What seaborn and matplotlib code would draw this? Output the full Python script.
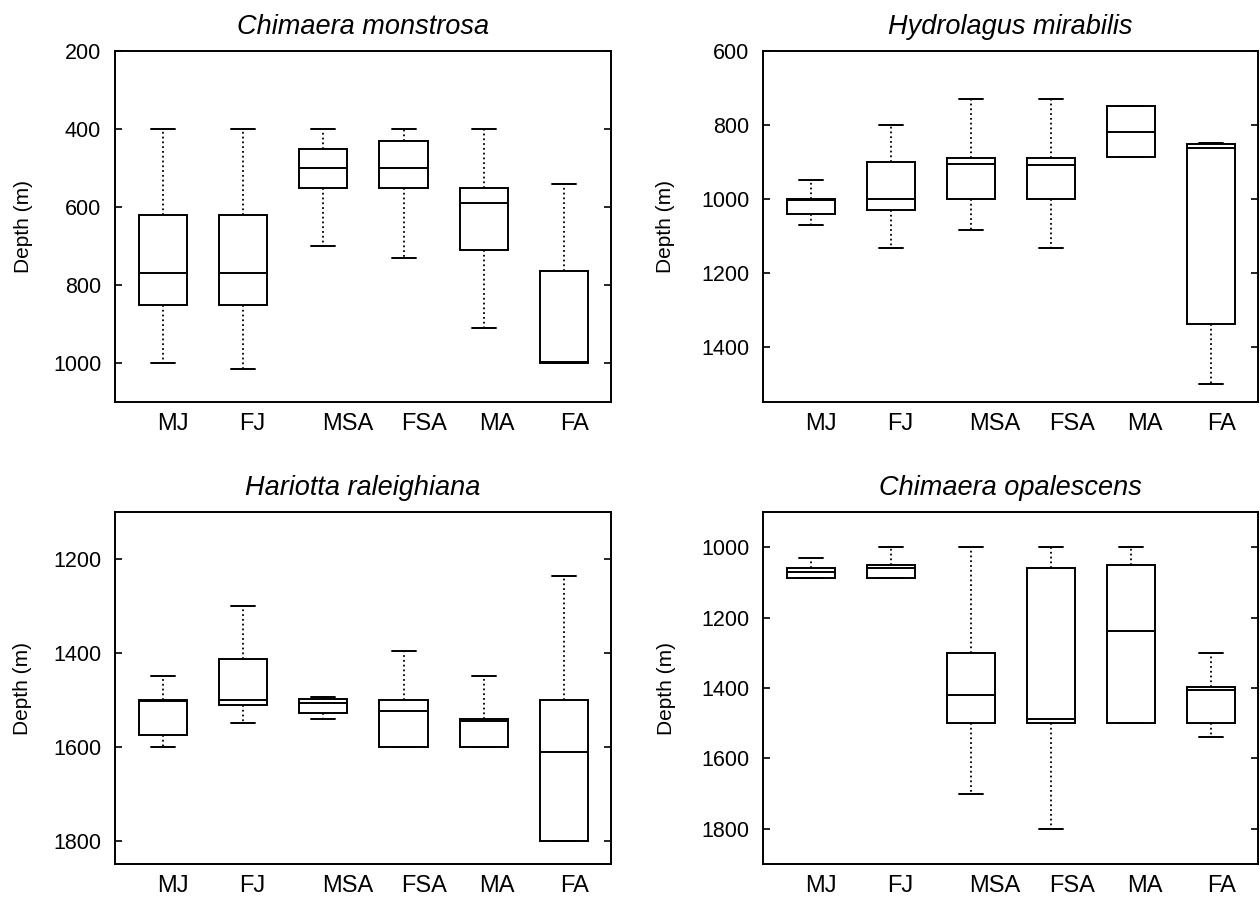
import numpy as np
import pandas as pd
import matplotlib
matplotlib.use("Agg")
import matplotlib.pyplot as plt
from matplotlib.ticker import MultipleLocator
import seaborn as sns

# ------------------------------------------------------
# Depth distribution by maturity/sex class, four chimaeras
# each tuple: (min, q1, median, q3, max), depth in m
# ------------------------------------------------------
groups = ["MJ", "FJ", "MSA", "FSA", "MA", "FA"]

monstrosa = [(400, 620, 770, 850, 1000),
             (400, 620, 770, 850, 1015),
             (400, 450, 500, 550, 700),
             (400, 430, 500, 550, 730),
             (400, 550, 590, 710, 910),
             (540, 765, 997, 1000, 1000)]

mirabilis = [(950, 1000, 1004, 1040, 1070),
             (800, 900, 1000, 1030, 1133),
             (730, 890, 905, 1000, 1085),
             (730, 890, 908, 1000, 1133),
             (750, 750, 818, 888, 888),
             (848, 852, 862, 1340, 1500)]

raleighiana = [(1450, 1500, 1503, 1575, 1600),
               (1300, 1413, 1500, 1512, 1550),
               (1495, 1498, 1507, 1528, 1540),
               (1395, 1500, 1524, 1600, 1600),
               (1450, 1540, 1546, 1600, 1600),
               (1237, 1500, 1611, 1800, 1800)]

opalescens = [(1030, 1058, 1071, 1087, 1087),
              (1000, 1051, 1059, 1087, 1087),
              (1000, 1300, 1420, 1500, 1700),
              (1000, 1060, 1488, 1500, 1800),
              (1000, 1050, 1238, 1500, 1500),
              (1300, 1397, 1405, 1500, 1540)]

# tick labels in the original sit a bit right of the boxes
label_shift = [0.12, 0.11, 0.30, 0.26, 0.17, 0.13]


def to_frame(stats):
    # five values per group reproduce the five-number summary exactly
    rows = []
    for g, vals in zip(groups, stats):
        for v in vals:
            rows.append({"group": g, "depth": v})
    return pd.DataFrame(rows)


sns.set_style("white")
plt.rcParams["font.family"] = ["Liberation Sans", "DejaVu Sans"]
plt.rcParams["text.color"] = "black"
plt.rcParams["axes.labelcolor"] = "black"
plt.rcParams["xtick.color"] = "black"
plt.rcParams["ytick.color"] = "black"

fig = plt.figure(figsize=(12.6, 8.99), dpi=100)

panels = [
    ("Chimaera monstrosa", monstrosa, (1100, 200), [0.0913, 0.5528, 0.3937, 0.3904], -0.165),
    ("Hydrolagus mirabilis", mirabilis, (1550, 600), [0.6056, 0.5528, 0.3929, 0.3904], -0.178),
    ("Hariotta raleighiana", raleighiana, (1850, 1100), [0.0913, 0.0389, 0.3937, 0.3915], -0.167),
    ("Chimaera opalescens", opalescens, (1900, 900), [0.6056, 0.0389, 0.3929, 0.3915], -0.176),
]

for title, stats, ylim, rect, ylab_x in panels:
    ax = fig.add_axes(rect)
    sns.boxplot(data=to_frame(stats), x="group", y="depth", order=groups,
                whis=(0, 100), showfliers=False, width=0.6,
                color="white", linecolor="black", linewidth=1.4,
                whiskerprops={"linestyle": ":", "linewidth": 1.3},
                medianprops={"linewidth": 1.4}, ax=ax)

    # shorter caps
    for cont in ax.containers:
        for cap in cont.caps:
            x = cap.get_xdata()
            c = (x[0] + x[1]) / 2
            cap.set_xdata([c - 0.15, c + 0.15])
            cap.set_linestyle("-")

    ax.set_xlim(-0.6, 5.59)
    ax.set_ylim(*ylim)
    ax.yaxis.set_major_locator(MultipleLocator(200))
    ax.set_xticks([i + s for i, s in enumerate(label_shift)])
    ax.set_xticklabels(groups)
    ax.set_xlabel("")
    ax.set_ylabel("Depth (m)", fontsize=15)
    ax.yaxis.set_label_coords(ylab_x, 0.5)
    ax.set_title(title, fontsize=19.5, style="italic", pad=12)

    ax.tick_params(axis="x", length=0, labelsize=17, pad=8)
    ax.tick_params(axis="y", direction="in", length=5, width=1.2,
                   left=True, right=True, labelsize=15.5, pad=10)
    for sp in ax.spines.values():
        sp.set_visible(True)
        sp.set_color("black")
        sp.set_linewidth(1.4)

fig.savefig("out.png", dpi=100)
